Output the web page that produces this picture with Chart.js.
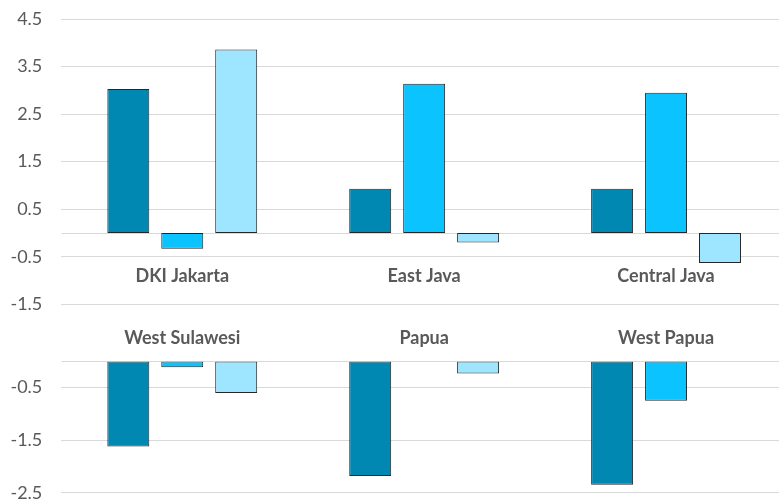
<!DOCTYPE html>
<html>
<head>
<meta charset="utf-8">
<script src="https://cdn.jsdelivr.net/npm/chart.js@4"></script>
<style>
  html, body { margin: 0; padding: 0; background: #fff; overflow: hidden; width: 779px; height: 503px; }
  .box { position: absolute; left: 0; width: 800px; }
  #top { top: 0; height: 320px; }
  #bottom { top: 300px; height: 220px; }
</style>
</head>
<body>
<div class="box" id="top"><canvas id="c1"></canvas></div>
<div class="box" id="bottom"><canvas id="c2"></canvas></div>
<script>
// ---- data ----
const topCategories = ['DKI Jakarta', 'East Java', 'Central Java'];
const bottomCategories = ['West Sulawesi', 'Papua', 'West Papua'];
const topSeries1 = [3.03, 0.93, 0.93];
const topSeries2 = [-0.33, 3.14, 2.95];
const topSeries3 = [3.86, -0.20, -0.63];
const bottomSeries1 = [-1.62, -2.18, -2.35];
const bottomSeries2 = [-0.11, 0.00, -0.75];
const bottomSeries3 = [-0.60, -0.23, 0.00];
const topTicks = [-1.5, -0.5, 0.5, 1.5, 2.5, 3.5, 4.5];
const bottomTicks = [-2.5, -1.5, -0.5];

// ---- styles ----
const colors = ['#0088B2', '#0BC3FF', '#9EE6FF'];
const borderCol = '#262626';
const gridCol = '#d9d9d9';
const textCol = '#595959';
const fontFam = 'Lato, "Open Sans", sans-serif';

function makeDatasets(s1, s2, s3) {
  return [s1, s2, s3].map((d, i) => ({
    data: d,
    backgroundColor: colors[i],
    borderColor: borderCol,
    borderWidth: 1,
    borderSkipped: false,
    categoryPercentage: 0.669,
    barPercentage: 0.778
  }));
}

function labelPlugin(labelValue) {
  return {
    id: 'catLabels',
    beforeDatasetsDraw(chart) {
      const { ctx, chartArea, scales: { y } } = chart;
      const y0 = y.getPixelForValue(0);
      ctx.save();
      ctx.strokeStyle = gridCol;
      ctx.lineWidth = 1;
      ctx.beginPath();
      ctx.moveTo(chartArea.left, Math.round(y0) + 0.5);
      ctx.lineTo(chartArea.right, Math.round(y0) + 0.5);
      ctx.stroke();
      ctx.restore();
    },
    afterDraw(chart) {
      const { ctx, chartArea, scales: { x, y } } = chart;
      ctx.save();
      ctx.fillStyle = textCol;
      // value tick labels
      ctx.font = '18px ' + fontFam;
      ctx.textAlign = 'right';
      ctx.textBaseline = 'middle';
      y.ticks.forEach(t => {
        ctx.fillText(Number(t.value).toFixed(1), chartArea.left - 19, y.getPixelForValue(t.value));
      });
      // category labels
      ctx.font = 'bold 18px ' + fontFam;
      ctx.textAlign = 'center';
      chart.data.labels.forEach((lab, i) => {
        ctx.fillText(lab, x.getPixelForValue(i), y.getPixelForValue(labelValue));
      });
      ctx.restore();
    }
  };
}

function makeChart(id, labels, datasets, tickVals, min, max, padding, labelValue) {
  return new Chart(document.getElementById(id), {
    type: 'bar',
    data: { labels, datasets },
    options: {
      responsive: true,
      maintainAspectRatio: false,
      animation: false,
      events: [],
      layout: { padding, autoPadding: false },
      plugins: { legend: { display: false }, tooltip: { enabled: false } },
      scales: {
        x: { display: false },
        y: {
          min, max,
          afterBuildTicks(scale) { scale.ticks = tickVals.map(v => ({ value: v })); },
          afterFit(scale) { scale.width = 61.3; scale.paddingTop = 0; scale.paddingBottom = 0; },
          border: { display: false },
          grid: { color: gridCol, lineWidth: 1, drawTicks: false },
          ticks: { display: false }
        }
      }
    },
    plugins: [labelPlugin(labelValue)]
  });
}

makeChart('c1', topCategories, makeDatasets(topSeries1, topSeries2, topSeries3),
  topTicks, -1.5, 4.5, { top: 19, bottom: 15.7, left: 0, right: 13 }, -0.9);
makeChart('c2', bottomCategories, makeDatasets(bottomSeries1, bottomSeries2, bottomSeries3),
  bottomTicks, -2.5, 0, { top: 61.4, bottom: 27.3, left: 0, right: 13 }, 0.44);
</script>
</body>
</html>
